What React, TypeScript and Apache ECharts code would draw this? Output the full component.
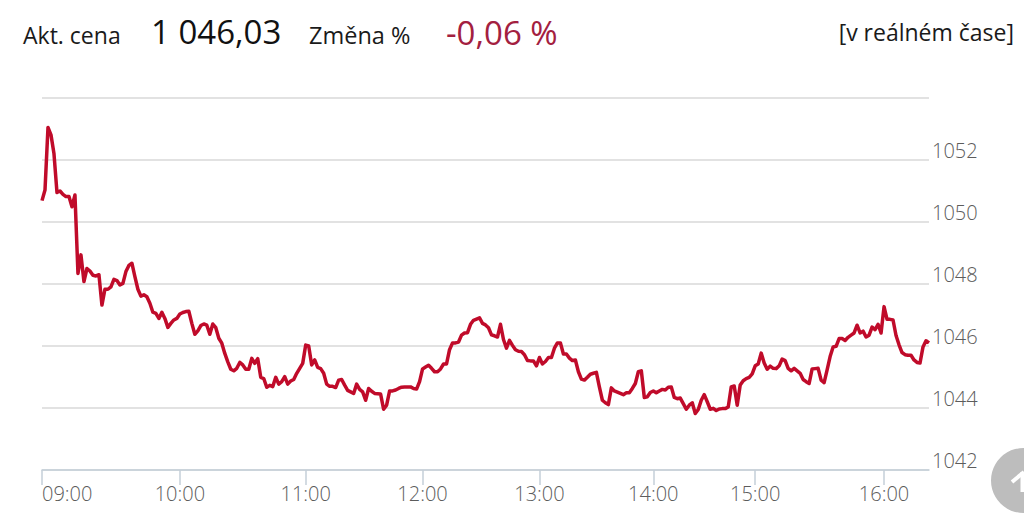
import React, { useEffect, useRef } from "react";
import * as echarts from "echarts";

const hourLabels = ["09", "10", "11", "12", "13", "14", "15", "16"];
const hourStarts = [0, 46, 88, 127, 166, 204, 238, 281];
const yTicks = [1042, 1044, 1046, 1048, 1050, 1052, 1054];

const prices = [
  1050.69, 1051.03, 1053.05, 1052.81, 1052.2, 1050.95, 1051.0, 1050.89, 1050.82, 1050.82, 1050.49, 1050.87,
  1048.34, 1048.94, 1048.08, 1048.5, 1048.42, 1048.28, 1048.26, 1048.3, 1047.32, 1047.83, 1047.83, 1047.91,
  1048.15, 1048.11, 1047.97, 1048.02, 1048.4, 1048.6, 1048.67, 1048.24, 1047.83, 1047.61, 1047.65, 1047.59,
  1047.38, 1047.09, 1047.05, 1046.89, 1047.09, 1046.89, 1046.6, 1046.73, 1046.84, 1046.89, 1047.03, 1047.08,
  1047.11, 1047.12, 1046.73, 1046.38, 1046.49, 1046.66, 1046.71, 1046.67, 1046.38, 1046.71, 1046.59, 1046.25,
  1046.09, 1045.76, 1045.49, 1045.25, 1045.2, 1045.28, 1045.47, 1045.39, 1045.25, 1045.25, 1045.6, 1045.44,
  1045.59, 1044.99, 1044.95, 1044.67, 1044.73, 1044.69, 1044.99, 1044.77, 1044.85, 1045.01, 1044.77, 1044.87,
  1044.92, 1045.12, 1045.28, 1045.44, 1046.03, 1046.0, 1045.39, 1045.55, 1045.31, 1045.27, 1045.12, 1044.77,
  1044.7, 1044.7, 1044.66, 1044.9,
  1044.92, 1044.74, 1044.57, 1044.52, 1044.47, 1044.77, 1044.6, 1044.52, 1044.25, 1044.63, 1044.54, 1044.47,
  1044.46, 1044.45, 1043.96, 1044.09, 1044.55, 1044.55, 1044.58, 1044.63, 1044.67, 1044.68, 1044.68, 1044.68,
  1044.63, 1044.61, 1044.85, 1045.26, 1045.32, 1045.38, 1045.28, 1045.17, 1045.17, 1045.26, 1045.42, 1045.42,
  1045.88, 1046.1, 1046.1, 1046.13, 1046.35, 1046.42, 1046.43, 1046.7, 1046.83, 1046.87, 1046.91, 1046.73,
  1046.68, 1046.59, 1046.36, 1046.33, 1046.29, 1046.7, 1046.21, 1045.93, 1046.18, 1046.02, 1045.88, 1045.83,
  1045.82, 1045.72, 1045.53, 1045.52, 1045.52, 1045.36, 1045.63, 1045.42, 1045.5, 1045.63, 1045.63, 1045.93,
  1046.1, 1046.1, 1045.74, 1045.74, 1045.61, 1045.53, 1045.55, 1045.17, 1044.93, 1044.9, 1044.99, 1045.09,
  1045.12, 1045.15, 1044.68, 1044.25, 1044.17, 1044.11, 1044.65, 1044.55, 1044.51, 1044.47, 1044.43, 1044.49,
  1044.49, 1044.63, 1044.79, 1045.17, 1045.2, 1044.34, 1044.36, 1044.5, 1044.55, 1044.49, 1044.55, 1044.6,
  1044.58, 1044.67, 1044.68, 1044.34, 1044.3,
  1044.32, 1044.14, 1043.96, 1044.09, 1044.17, 1043.82, 1043.95, 1044.25, 1044.43, 1044.2, 1043.96, 1043.99,
  1043.92, 1043.97, 1043.98, 1043.98, 1044.03, 1044.68, 1044.71, 1044.09, 1044.74, 1044.88, 1044.95, 1044.99,
  1045.1, 1045.36, 1045.42, 1045.77, 1045.45, 1045.25, 1045.35, 1045.28, 1045.27, 1045.36, 1045.58, 1045.53,
  1045.28, 1045.2, 1045.28, 1045.2, 1045.12, 1044.92, 1044.85, 1044.79, 1045.26, 1045.27, 1045.28, 1044.9,
  1044.82, 1045.23, 1045.66, 1045.97, 1045.99, 1046.24, 1046.24, 1046.18, 1046.28, 1046.35, 1046.42, 1046.67,
  1046.42, 1046.48, 1046.29, 1046.35, 1046.61, 1046.53, 1046.7, 1046.42, 1047.27, 1046.86, 1046.86, 1046.84,
  1046.34, 1046.04, 1045.79, 1045.72, 1045.7, 1045.7, 1045.55, 1045.47, 1045.45, 1045.97, 1046.17, 1046.1,
];

const pad = (n: number) => String(n).padStart(2, "0");
const categories = prices.map((_, i) => {
  let h = hourStarts.length - 1;
  while (hourStarts[h] > i) h--;
  const span = (hourStarts[h + 1] ?? hourStarts[h] + 43) - hourStarts[h];
  return `${hourLabels[h]}:${pad(Math.floor((60 * (i - hourStarts[h])) / span))}`;
});
const isHour = (_: number, v: string) => v.endsWith(":00");

const FONT = '"Open Sans", sans-serif';

export default function App() {
  const ref = useRef<HTMLDivElement>(null);
  useEffect(() => {
    const chart = echarts.init(ref.current!, null, { renderer: "svg" });
    const label = (text: string, x: number, y: number, size: number, fill: string, align = "left") => ({
      type: "text",
      x,
      y,
      style: { text, fontFamily: FONT, fontSize: size, fill, textAlign: align, textVerticalAlign: "middle" },
    });
    chart.setOption({
      animation: false,
      backgroundColor: "#ffffff",
      grid: { left: 42, right: 95, top: 98, bottom: 54 },
      xAxis: {
        type: "category",
        data: categories,
        boundaryGap: false,
        axisLine: { lineStyle: { color: "#c4cfd9", width: 1.5 } },
        axisTick: { interval: isHour, length: 15, lineStyle: { color: "#c4cfd9", width: 1.5 } },
        axisLabel: {
          interval: isHour,
          margin: 13,
          alignMinLabel: "left",
          fontFamily: FONT,
          fontSize: 20,
          fontWeight: 300,
          color: "#5c5c5c",
        },
        splitLine: { show: false },
      },
      yAxis: {
        type: "value",
        position: "right",
        min: yTicks[0],
        max: yTicks[yTicks.length - 1],
        interval: 2,
        axisLine: { show: false },
        axisTick: { show: false },
        splitLine: { lineStyle: { color: "#d9d9d9", width: 1.5 } },
        axisLabel: {
          showMaxLabel: false,
          margin: 3,
          verticalAlign: "bottom",
          formatter: (v: number) => String(v),
          fontFamily: FONT,
          fontSize: 20,
          fontWeight: 300,
          color: "#5c5c5c",
        },
      },
      series: [
        {
          type: "line",
          data: prices,
          symbol: "none",
          smooth: false,
          lineStyle: { color: "#c00b2a", width: 3.5, join: "round" },
        },
      ],
      graphic: [
        label("Akt. cena", 23, 35, 23, "#1a1a1a"),
        label("1 046,03", 151, 31, 33, "#111111"),
        label("Změna %", 309, 35, 23.5, "#1a1a1a"),
        label("-0,06 %", 446, 32, 33, "#a3203f"),
        label("[v reálném čase]", 1014, 32, 23, "#1a1a1a", "right"),
        { type: "circle", shape: { cx: 1023.5, cy: 480.5, r: 32.5 }, style: { fill: "#bdbdbd" } },
        {
          type: "polyline",
          shape: { points: [[1012, 482], [1024, 472]] },
          style: { stroke: "#ffffff", lineWidth: 4, fill: "none" },
        },
        {
          type: "polyline",
          shape: { points: [[1024, 472], [1024, 492]] },
          style: { stroke: "#ffffff", lineWidth: 7, fill: "none" },
        },
      ],
    });
    return () => chart.dispose();
  }, []);
  return <div ref={ref} style={{ position: "fixed", left: 0, top: 0, width: 1024, height: 524 }} />;
}
